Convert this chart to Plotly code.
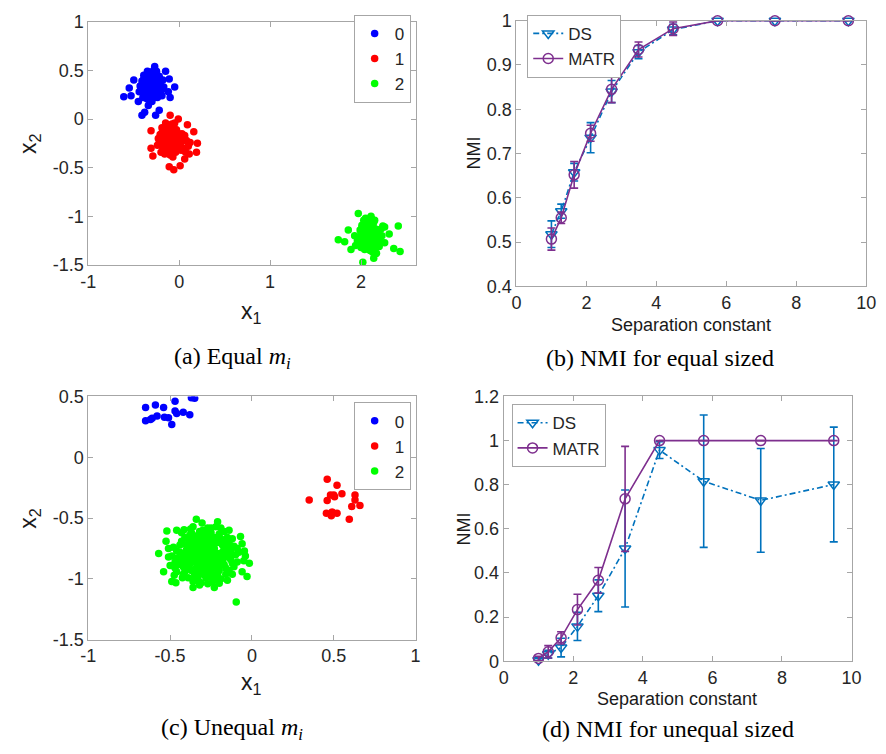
import plotly.graph_objects as go

# ---------------- data ----------------
# (a) equal cluster sizes: points per cluster label
A_C0 = [(-0.30, 0.33), (-0.28, 0.36), (-0.33, 0.30), (-0.25, 0.35), (-0.36, 0.38), (-0.31, 0.27),
        (-0.27, 0.42), (-0.22, 0.31), (-0.38, 0.33), (-0.34, 0.44), (-0.29, 0.25), (-0.24, 0.40),
        (-0.32, 0.37), (-0.26, 0.29), (-0.35, 0.24), (-0.40, 0.36), (-0.21, 0.36), (-0.30, 0.46),
        (-0.28, 0.22), (-0.37, 0.29), (-0.33, 0.41), (-0.19, 0.30), (-0.42, 0.31), (-0.26, 0.47),
        (-0.31, 0.34), (-0.23, 0.26), (-0.36, 0.45), (-0.29, 0.39), (-0.34, 0.20), (-0.27, 0.32),
        (-0.25, 0.28), (-0.39, 0.41), (-0.32, 0.48), (-0.18, 0.40), (-0.30, 0.18), (-0.44, 0.28),
        (-0.28, 0.50), (-0.35, 0.35), (-0.22, 0.44), (-0.31, 0.38),
        (-0.35, 0.31), (-0.25, 0.38), (-0.29, 0.29), (-0.33, 0.46), (-0.23, 0.43), (-0.38, 0.25),
        (-0.27, 0.27), (-0.31, 0.42), (-0.20, 0.34), (-0.41, 0.39), (-0.36, 0.21), (-0.24, 0.22),
        (-0.32, 0.24), (-0.28, 0.44), (-0.21, 0.27), (-0.39, 0.45), (-0.34, 0.38), (-0.26, 0.33),
        (-0.30, 0.40), (-0.37, 0.34), (-0.22, 0.39), (-0.33, 0.27), (-0.29, 0.36), (-0.43, 0.34),
        (-0.17, 0.33), (-0.35, 0.49), (-0.25, 0.49), (-0.40, 0.22), (-0.19, 0.24), (-0.31, 0.30),
        (-0.61, 0.23), (-0.53, 0.24), (-0.55, 0.32), (-0.50, 0.40), (-0.41, 0.04), (-0.38, 0.07),
        (-0.26, 0.04), (-0.22, 0.09), (-0.27, 0.54), (-0.15, 0.49), (-0.11, 0.41), (-0.05, 0.33),
        (-0.10, 0.22), (-0.12, 0.28), (-0.45, 0.18), (-0.34, 0.14)]
A_C1 = [(-0.10, -0.22), (-0.08, -0.19), (-0.13, -0.25), (-0.05, -0.20), (-0.16, -0.17), (-0.11, -0.28),
        (-0.07, -0.13), (-0.02, -0.24), (-0.18, -0.22), (-0.14, -0.11), (-0.09, -0.30), (-0.04, -0.15),
        (-0.12, -0.18), (-0.06, -0.26), (-0.15, -0.31), (-0.20, -0.19), (-0.01, -0.19), (-0.10, -0.09),
        (-0.08, -0.33), (-0.17, -0.26), (-0.13, -0.14), (0.01, -0.25), (-0.22, -0.24), (-0.06, -0.08),
        (-0.11, -0.21), (-0.03, -0.29), (-0.16, -0.10), (-0.09, -0.16), (-0.14, -0.35), (-0.07, -0.23),
        (-0.05, -0.27), (-0.19, -0.14), (-0.12, -0.07), (0.03, -0.15), (-0.10, -0.37), (-0.24, -0.27),
        (-0.08, -0.05), (-0.15, -0.20), (0.05, -0.30), (-0.11, -0.12), (0.08, -0.22), (0.10, -0.28),
        (-0.15, -0.24), (-0.05, -0.17), (-0.09, -0.26), (-0.13, -0.06), (-0.03, -0.11), (-0.18, -0.30),
        (-0.07, -0.31), (-0.11, -0.16), (0.00, -0.21), (-0.21, -0.16), (-0.16, -0.36), (-0.04, -0.34),
        (-0.12, -0.33), (-0.08, -0.11), (-0.01, -0.28), (-0.19, -0.09), (-0.14, -0.19), (-0.06, -0.22),
        (-0.10, -0.14), (-0.17, -0.23), (-0.02, -0.14), (-0.13, -0.28), (-0.09, -0.20), (-0.23, -0.20),
        (0.03, -0.23), (-0.15, -0.04), (-0.05, -0.04), (-0.20, -0.34), (0.02, -0.32), (-0.11, -0.25),
        (0.06, -0.17), (0.12, -0.24), (0.07, -0.34), (-0.07, -0.39),
        (-0.10, 0.04), (-0.01, 0.00), (0.09, -0.06), (0.16, -0.13), (0.20, -0.25), (0.19, -0.34),
        (-0.31, -0.12), (-0.31, -0.30), (-0.29, -0.38), (-0.11, -0.49), (-0.06, -0.52), (0.01, -0.48),
        (0.06, -0.41), (0.11, -0.36)]
A_C2 = [(2.10, -1.20), (2.12, -1.17), (2.07, -1.23), (2.15, -1.18), (2.04, -1.15), (2.09, -1.26),
        (2.13, -1.11), (2.18, -1.22), (2.02, -1.20), (2.06, -1.09), (2.11, -1.28), (2.16, -1.13),
        (2.08, -1.16), (2.14, -1.24), (2.05, -1.29), (2.00, -1.17), (2.19, -1.17), (2.10, -1.07),
        (2.12, -1.31), (2.03, -1.24), (2.07, -1.12), (2.21, -1.23), (1.98, -1.22), (2.14, -1.06),
        (2.09, -1.19), (2.17, -1.27), (2.04, -1.08), (2.11, -1.14), (2.06, -1.33), (2.13, -1.21),
        (2.15, -1.25), (2.01, -1.12), (2.08, -1.05), (2.22, -1.13), (2.10, -1.35), (1.96, -1.25),
        (2.12, -1.03), (2.05, -1.18), (2.18, -1.28), (2.09, -1.10),
        (2.05, -1.22), (2.15, -1.15), (2.09, -1.24), (2.03, -1.04), (2.13, -1.09), (1.98, -1.28),
        (2.11, -1.30), (2.07, -1.14), (2.20, -1.19), (1.99, -1.14), (2.04, -1.34), (2.16, -1.32),
        (2.08, -1.31), (2.12, -1.09), (2.19, -1.26), (2.01, -1.09), (2.14, -1.19), (2.06, -1.20),
        (2.10, -1.12), (2.03, -1.21), (2.18, -1.14), (2.07, -1.28), (2.11, -1.22), (1.93, -1.20),
        (2.23, -1.20), (2.15, -1.04), (2.05, -1.02), (2.00, -1.32), (2.20, -1.31), (2.09, -1.25),
        (2.26, -1.27), (2.24, -1.10), (1.94, -1.30), (2.13, -1.37), (2.17, -1.38),
        (1.97, -0.97), (2.11, -1.00), (2.41, -1.10), (1.75, -1.24), (1.82, -1.26), (1.89, -1.34),
        (2.02, -1.47), (2.14, -1.43), (2.43, -1.36), (2.36, -1.33), (2.31, -1.18), (2.26, -1.11),
        (1.86, -1.14)]

# (c) unequal cluster sizes
C_C0 = [(-0.65, 0.41), (-0.59, 0.43), (-0.54, 0.41), (-0.47, 0.46), (-0.47, 0.38), (-0.46, 0.36),
        (-0.42, 0.37), (-0.38, 0.35), (-0.37, 0.49), (-0.35, 0.485), (-0.65, 0.30), (-0.62, 0.31),
        (-0.61, 0.32), (-0.58, 0.34), (-0.535, 0.33), (-0.51, 0.325), (-0.49, 0.27)]
C_C1 = [(0.46, -0.18), (0.52, -0.23), (0.35, -0.35), (0.46, -0.355), (0.48, -0.31), (0.50, -0.31),
        (0.505, -0.325), (0.55, -0.30), (0.63, -0.31), (0.63, -0.35), (0.66, -0.395), (0.61, -0.405),
        (0.455, -0.46), (0.49, -0.45), (0.485, -0.48), (0.52, -0.46), (0.595, -0.51)]
C_C2 = [(-0.29, -0.82), (-0.27, -0.79), (-0.32, -0.85), (-0.24, -0.80), (-0.35, -0.77), (-0.30, -0.88),
        (-0.26, -0.73), (-0.21, -0.84), (-0.37, -0.82), (-0.33, -0.71), (-0.28, -0.90), (-0.23, -0.75),
        (-0.31, -0.78), (-0.25, -0.86), (-0.34, -0.91), (-0.39, -0.79), (-0.20, -0.79), (-0.29, -0.69),
        (-0.27, -0.93), (-0.36, -0.86), (-0.32, -0.74), (-0.18, -0.85), (-0.41, -0.84), (-0.25, -0.68),
        (-0.30, -0.81), (-0.22, -0.89), (-0.35, -0.70), (-0.28, -0.76), (-0.33, -0.95), (-0.26, -0.83),
        (-0.24, -0.87), (-0.38, -0.74), (-0.31, -0.67), (-0.17, -0.75), (-0.29, -0.97), (-0.43, -0.87),
        (-0.27, -0.65), (-0.34, -0.80), (-0.21, -0.90), (-0.30, -0.72),
        (-0.15, -0.82), (-0.44, -0.78), (-0.19, -0.88), (-0.40, -0.92), (-0.13, -0.76), (-0.46, -0.83),
        (-0.16, -0.70), (-0.38, -0.68), (-0.12, -0.87), (-0.42, -0.96), (-0.22, -0.99), (-0.36, -1.00),
        (-0.10, -0.80), (-0.48, -0.74), (-0.26, -0.62), (-0.33, -0.64), (-0.14, -0.93), (-0.45, -0.88),
        (-0.20, -0.63), (-0.39, -0.71), (-0.28, -0.84), (-0.31, -0.78), (-0.25, -0.90), (-0.34, -0.82),
        (-0.23, -0.86), (-0.37, -0.76), (-0.29, -0.94), (-0.32, -0.72), (-0.27, -0.80), (-0.30, -0.88),
        (-0.29, -0.76), (-0.24, -0.83), (-0.34, -0.86), (-0.27, -0.89), (-0.32, -0.79), (-0.22, -0.79),
        (-0.36, -0.81), (-0.26, -0.71), (-0.31, -0.92), (-0.20, -0.86), (-0.38, -0.88), (-0.25, -0.95),
        (-0.33, -0.68), (-0.18, -0.72), (-0.40, -0.76), (-0.28, -0.99), (-0.35, -0.96), (-0.16, -0.91),
        (-0.42, -0.90), (-0.23, -0.66), (-0.37, -0.62), (-0.13, -0.84), (-0.44, -0.72), (-0.21, -0.95),
        (-0.30, -0.60), (-0.11, -0.73), (-0.47, -0.86), (-0.19, -1.00), (-0.39, -0.99), (-0.15, -0.66),
        (-0.41, -0.66), (-0.24, -1.02), (-0.33, -1.01), (-0.09, -0.86), (-0.49, -0.81), (-0.17, -0.61),
        (-0.43, -0.62), (-0.27, -0.58), (-0.08, -0.78), (-0.46, -0.94), (-0.12, -0.96), (-0.36, -0.57),
        (-0.22, -0.57), (-0.05, -0.85), (-0.51, -0.82), (-0.31, -0.84), (-0.26, -0.77), (-0.35, -0.74),
        (-0.23, -0.91), (-0.28, -0.70), (-0.32, -0.90), (-0.19, -0.82), (-0.39, -0.83), (-0.25, -0.86),
        (-0.30, -0.75), (-0.34, -0.94), (-0.21, -0.70), (-0.27, -0.95), (-0.37, -0.70), (-0.14, -0.79),
        (-0.28, -0.73), (-0.33, -0.77), (-0.25, -0.80), (-0.36, -0.84), (-0.22, -0.84), (-0.30, -0.95),
        (-0.27, -0.85), (-0.39, -0.87), (-0.18, -0.78), (-0.31, -0.65), (-0.24, -0.74), (-0.42, -0.80),
        (-0.17, -0.88), (-0.35, -0.66), (-0.26, -0.98), (-0.40, -0.72), (-0.20, -0.93), (-0.29, -0.63),
        (-0.37, -0.93), (-0.15, -0.73), (-0.44, -0.84), (-0.23, -0.70), (-0.33, -0.98), (-0.19, -0.67),
        (-0.41, -0.94), (-0.28, -0.66), (-0.13, -0.80), (-0.46, -0.77), (-0.21, -0.97), (-0.38, -0.64),
        (-0.32, -0.61), (-0.16, -0.96), (-0.43, -0.69), (-0.11, -0.90), (-0.25, -0.62), (-0.36, -1.02),
        (-0.27, -1.04), (-0.14, -0.70), (-0.47, -0.91), (-0.09, -0.75),
        (-0.34, -0.51), (-0.305, -0.54), (-0.21, -0.53), (-0.52, -0.605), (-0.46, -0.60), (-0.57, -0.79),
        (-0.54, -0.94), (-0.49, -1.02), (-0.465, -1.03), (-0.36, -1.07), (-0.32, -1.05), (-0.23, -1.07),
        (-0.20, -1.035), (-0.15, -1.01), (-0.06, -0.94), (-0.03, -0.98), (-0.016, -0.87), (-0.046, -0.77),
        (-0.06, -0.71), (-0.07, -0.65), (-0.14, -0.60), (-0.19, -0.58), (-0.25, -0.58), (-0.415, -0.595),
        (-0.525, -0.69), (-0.51, -0.75), (-0.50, -0.89), (-0.475, -0.97), (-0.096, -1.19), (-0.04, -0.81),
        (-0.12, -0.67), (-0.375, -0.59), (-0.31, -1.03), (-0.425, -0.99)]

# (b), (d) NMI versus separation constant
SEP = [1.0, 1.28, 1.65, 2.12, 2.72, 3.49, 4.48, 5.75, 7.39, 9.49]
B_DS = [0.518, 0.570, 0.658, 0.736, 0.840, 0.929, 0.980, 1.0, 1.0, 1.0]
B_DS_ERR = [0.030, 0.016, 0.020, 0.034, 0.025, 0.015, 0.012, 0.0, 0.0, 0.0]
B_MATR = [0.507, 0.555, 0.652, 0.746, 0.845, 0.935, 0.982, 1.0, 1.0, 1.0]
B_MATR_ERR = [0.025, 0.013, 0.030, 0.018, 0.030, 0.017, 0.015, 0.0, 0.0, 0.0]
D_DS = [0.005, 0.032, 0.062, 0.158, 0.297, 0.511, 0.957, 0.816, 0.729, 0.801]
D_DS_ERR = [0.008, 0.018, 0.042, 0.064, 0.072, 0.265, 0.038, 0.300, 0.235, 0.260]
D_MATR = [0.013, 0.043, 0.106, 0.234, 0.367, 0.736, 1.0, 1.0, 1.0, 1.0]
D_MATR_ERR = [0.010, 0.028, 0.028, 0.070, 0.058, 0.238, 0.0, 0.0, 0.0, 0.0]

LABELS = ["0", "1", "2"]
CLUSTER_COLORS = ["#0000FF", "#FF0000", "#00FF00"]
DS_COLOR = "#0072BD"
MATR_COLOR = "#7E2F8E"

W, H = 886, 754
SANS = "Liberation Sans, Arial, sans-serif"
SERIF = "Liberation Serif, Times New Roman, serif"
TICK_COLOR = "#262626"
BOX_COLOR = "#a6a6a6"


def px_x(p):
    return p / W


def px_y(p):
    return 1 - p / H


fig = go.Figure()

# scatter panels
for clusters, ax, leg in [((A_C0, A_C1, A_C2), ("x", "y"), "legend"),
                          ((C_C0, C_C1, C_C2), ("x3", "y3"), "legend3")]:
    for lab, pts, col in zip(LABELS, clusters, CLUSTER_COLORS):
        fig.add_trace(go.Scatter(
            x=[p[0] for p in pts], y=[p[1] for p in pts], mode="markers", name=lab,
            marker=dict(color=col, size=7.5, line=dict(width=0)),
            xaxis=ax[0], yaxis=ax[1], legend=leg))

# NMI panels
for ds, ds_err, mt, mt_err, ax, leg in [(B_DS, B_DS_ERR, B_MATR, B_MATR_ERR, ("x2", "y2"), "legend2"),
                                         (D_DS, D_DS_ERR, D_MATR, D_MATR_ERR, ("x4", "y4"), "legend4")]:
    fig.add_trace(go.Scatter(
        x=SEP, y=ds, mode="lines+markers", name="DS",
        line=dict(color=DS_COLOR, width=1.6, dash="6px,3px,2px,3px"),
        marker=dict(symbol="triangle-down-open", size=10, color=DS_COLOR, line=dict(width=1.5)),
        error_y=dict(type="data", array=ds_err, color=DS_COLOR, thickness=1.6, width=4),
        cliponaxis=False, xaxis=ax[0], yaxis=ax[1], legend=leg))
    fig.add_trace(go.Scatter(
        x=SEP, y=mt, mode="lines+markers", name="MATR",
        line=dict(color=MATR_COLOR, width=1.6),
        marker=dict(symbol="circle-open", size=10, color=MATR_COLOR, line=dict(width=1.5)),
        error_y=dict(type="data", array=mt_err, color=MATR_COLOR, thickness=1.6, width=4),
        cliponaxis=False, xaxis=ax[0], yaxis=ax[1], legend=leg))


def axis(domain, rng, vals, anchor):
    return dict(domain=domain, range=rng, tickvals=vals, ticktext=["%g" % v for v in vals],
                anchor=anchor, showgrid=False, zeroline=False, showline=True,
                linecolor=BOX_COLOR, linewidth=1, mirror="ticks", ticks="inside", ticklen=5,
                tickcolor=BOX_COLOR, tickfont=dict(family=SANS, size=18, color=TICK_COLOR),
                fixedrange=True)


xa = [-1, 0, 1, 2]
ya = [-1.5, -1, -0.5, 0, 0.5, 1]
xb = [0, 2, 4, 6, 8, 10]
yb = [0.4, 0.5, 0.6, 0.7, 0.8, 0.9, 1.0]
xc = [-1, -0.5, 0, 0.5, 1]
yc = [-1.5, -1, -0.5, 0, 0.5]
yd = [0, 0.2, 0.4, 0.6, 0.8, 1.0, 1.2]

fig.update_layout(
    width=W, height=H, margin=dict(l=0, r=0, t=0, b=0),
    paper_bgcolor="white", plot_bgcolor="white",
    xaxis=axis([px_x(82), px_x(416)], [-1, 2.6], xa, "y"),
    yaxis=axis([px_y(262), px_y(12)], [-1.5, 1], ya, "x"),
    xaxis2=axis([px_x(519), px_x(876)], [0, 10], xb, "y2"),
    yaxis2=axis([px_y(284), px_y(11)], [0.4, 1], yb, "x2"),
    xaxis3=axis([px_x(82), px_x(416)], [-1, 1], xc, "y3"),
    yaxis3=axis([px_y(647), px_y(397)], [-1.5, 0.5], yc, "x3"),
    xaxis4=axis([px_x(506), px_x(861)], [0, 10], xb, "y4"),
    yaxis4=axis([px_y(669), px_y(397)], [0, 1.2], yd, "x4"),
    showlegend=True,
)

legend_style = dict(bgcolor="white", bordercolor=BOX_COLOR, borderwidth=1,
                    font=dict(family=SANS, size=17, color=TICK_COLOR),
                    yanchor="top", tracegroupgap=0, itemwidth=30)
fig.update_layout(
    legend=dict(x=px_x(411), y=px_y(5), xanchor="right", **legend_style),
    legend2=dict(x=px_x(530), y=px_y(5), xanchor="left", **legend_style),
    legend3=dict(x=px_x(411), y=px_y(403), xanchor="right", **legend_style),
    legend4=dict(x=px_x(514), y=px_y(405), xanchor="left", **legend_style),
)

# axis titles and panel captions
texts = [
    ("x<sub>1</sub>", 249, 311, 0, SANS, 23),
    ("x<sub>2</sub>", 22, 137, -90, SANS, 23),
    ("NMI", 476, 147, -90, SANS, 18),
    ("Separation constant", 697, 324, 0, SANS, 18),
    ("x<sub>1</sub>", 249, 692, 0, SANS, 23),
    ("x<sub>2</sub>", 22, 522, -90, SANS, 23),
    ("NMI", 465, 533, -90, SANS, 18),
    ("Separation constant", 683, 708, 0, SANS, 18),
    ("(a) Equal <i>m<sub>i</sub></i>", 229, 357, 0, SERIF, 24),
    ("(b) NMI for equal sized", 666, 357, 0, SERIF, 24),
    ("(c) Unequal <i>m<sub>i</sub></i>", 229, 739, 0, SERIF, 24),
    ("(d) NMI for unequal sized", 674, 739, 0, SERIF, 24),
]
for t, x, y, ang, fam, sz in texts:
    fig.add_annotation(text=t, x=px_x(x), y=px_y(y), xref="paper", yref="paper",
                       xanchor="center", yanchor="middle", showarrow=False, textangle=ang,
                       font=dict(family=fam, size=sz, color="#1a1a1a" if fam == SANS else "black"))

fig.write_html("out.html", config={"displayModeBar": False})
